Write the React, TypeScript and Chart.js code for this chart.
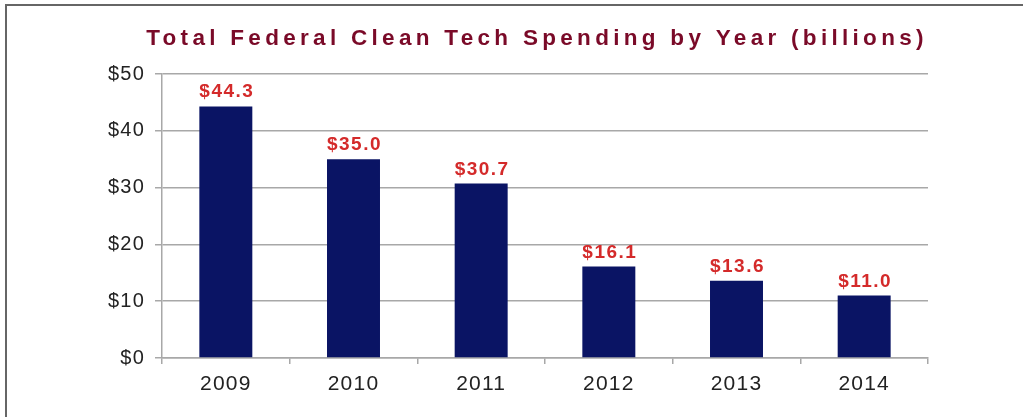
import React, { useEffect, useRef } from "react";
import { Chart, registerables } from "chart.js";

Chart.register(...registerables);

const TITLE = "Total Federal Clean Tech Spending by Year (billions)";
const years = ["2009", "2010", "2011", "2012", "2013", "2014"];
const spending = [44.3, 35.0, 30.7, 16.1, 13.6, 11.0];
const yTicks = [0, 10, 20, 30, 40, 50];

const FONT = "'Liberation Sans', Arial, Helvetica, sans-serif";

const decorPlugin = {
  id: "decor",
  beforeDraw(chart: any) {
    (chart.ctx as any).letterSpacing = "1.2px";
  },
  afterDatasetsDraw(chart: any) {
    const ctx = chart.ctx;
    const meta = chart.getDatasetMeta(0);
    ctx.save();
    (ctx as any).letterSpacing = "1.5px";
    ctx.font = `bold 19px ${FONT}`;
    ctx.fillStyle = "#d42a2a";
    ctx.textAlign = "center";
    ctx.textBaseline = "alphabetic";
    meta.data.forEach((bar: any, i: number) => {
      ctx.fillText("$" + spending[i].toFixed(1), bar.x + 1, bar.y - 9);
    });
    ctx.restore();
  },
  afterDraw(chart: any) {
    const ctx = chart.ctx;
    ctx.save();
    (ctx as any).letterSpacing = "4.3px";
    ctx.font = `bold 22.5px ${FONT}`;
    ctx.fillStyle = "#7a0a28";
    ctx.textAlign = "center";
    ctx.textBaseline = "alphabetic";
    ctx.fillText(TITLE, 537, 45);
    ctx.restore();
  },
};

export default function App() {
  const ref = useRef<HTMLCanvasElement | null>(null);

  useEffect(() => {
    if (!ref.current) return;
    const chart = new Chart(ref.current, {
      type: "bar",
      data: {
        labels: years,
        datasets: [
          {
            data: spending,
            backgroundColor: "#0a1464",
            borderWidth: 0,
            barPercentage: 0.415,
            categoryPercentage: 1,
          },
        ],
      },
      options: {
        animation: false,
        responsive: false,
        maintainAspectRatio: false,
        layout: { padding: { left: 0, right: 95, top: 74, bottom: 0 } },
        plugins: {
          legend: { display: false },
          title: { display: false },
          tooltip: { enabled: false },
        },
        scales: {
          x: {
            afterFit: (s: any) => {
              s.height = 59;
            },
            grid: {
              display: true,
              drawOnChartArea: false,
              drawTicks: true,
              tickLength: 6,
              color: "#a8a8a8",
              lineWidth: 1.5,
            },
            border: { display: true, color: "#a8a8a8", width: 1.5 },
            ticks: {
              color: "#222",
              font: { family: FONT, size: 21 },
              padding: 8,
            },
          },
          y: {
            min: 0,
            max: 50,
            afterFit: (s: any) => {
              s.width = 162;
            },
            afterBuildTicks: (s: any) => {
              s.ticks = yTicks.map((v) => ({ value: v }));
            },
            grid: {
              color: "#a8a8a8",
              lineWidth: 1.5,
              tickLength: 7,
            },
            border: { display: true, color: "#a8a8a8", width: 1.5 },
            ticks: {
              color: "#222",
              font: { family: FONT, size: 20 },
              padding: 10,
              callback: (v: any) => "$" + v,
            },
          },
        },
      },
      plugins: [decorPlugin],
    });
    return () => chart.destroy();
  }, []);

  return (
    <div
      style={{
        position: "fixed",
        left: 0,
        top: 0,
        width: 1023,
        height: 417,
        background: "#fff",
      }}
    >
      <div
        style={{
          position: "absolute",
          left: 5,
          top: 4,
          right: 0,
          bottom: 0,
          borderLeft: "2px solid #666",
          borderTop: "2px solid #666",
        }}
      />
      <canvas
        ref={ref}
        width={1023}
        height={417}
        style={{ position: "absolute", left: 0, top: 0, width: 1023, height: 417 }}
      />
    </div>
  );
}
